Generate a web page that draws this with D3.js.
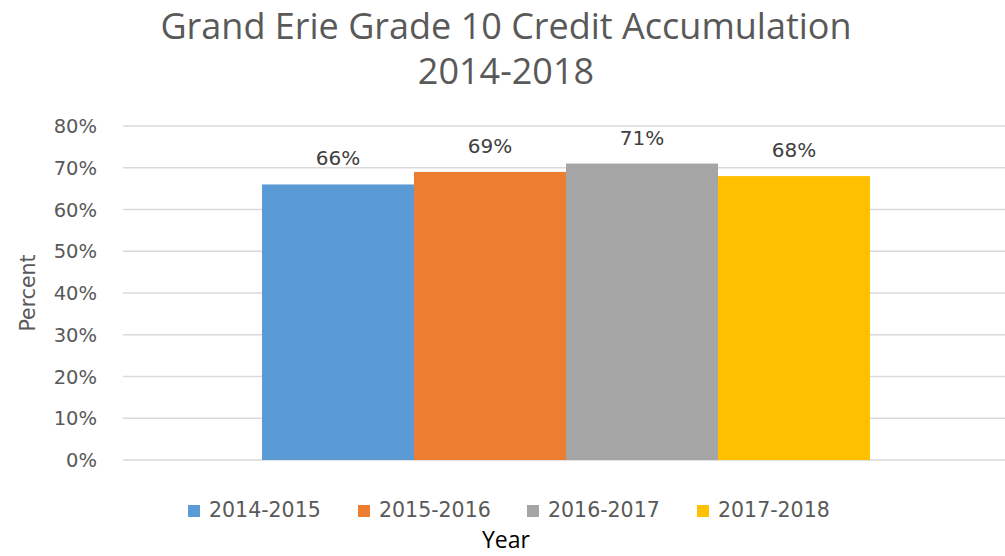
<!DOCTYPE html>
<html lang="en">
<head>
<meta charset="UTF-8">
<title>Grand Erie Grade 10 Credit Accumulation</title>
<script src="https://cdn.jsdelivr.net/npm/d3@7"></script>
<style>
    body { margin: 0; background: #fff; }
    text { font-family: "DejaVu Sans", sans-serif; }
    .title, .xtitle { font-family: "Open Sans", sans-serif; }
</style>
</head>
<body>
<script>
    var categories = ["Year"];
    var seriesNames = ["2014-2015", "2015-2016", "2016-2017", "2017-2018"];
    var seriesValues = [66, 69, 71, 68];
    var colors = ["#5B9BD5", "#ED7D31", "#A5A5A5", "#FFC000"];
    var yTicks = [0, 10, 20, 30, 40, 50, 60, 70, 80];

    var width = 1005, height = 556;
    var margin = {top: 126, right: 0, bottom: 96, left: 123};

    var svg = d3.select("body").append("svg")
        .attr("width", width)
        .attr("height", height);

    var x0 = d3.scaleBand()
        .domain(categories)
        .range([margin.left, 1009])
        .paddingInner(0)
        .paddingOuter(0.2286);

    var x1 = d3.scaleBand()
        .domain(seriesNames)
        .range([0, x0.bandwidth()]);

    var y = d3.scaleLinear()
        .domain([0, 80])
        .range([460, margin.top]);

    // gridlines
    svg.append("g")
        .selectAll("line")
        .data(yTicks)
        .enter()
        .append("line")
        .attr("x1", margin.left)
        .attr("x2", 1009)
        .attr("y1", function (d) { return y(d); })
        .attr("y2", function (d) { return y(d); })
        .attr("stroke", "#d9d9d9")
        .attr("stroke-width", 1.5);

    // y tick labels
    svg.append("g")
        .selectAll("text")
        .data(yTicks)
        .enter()
        .append("text")
        .attr("x", 97)
        .attr("y", function (d) { return y(d); })
        .attr("dy", "0.36em")
        .attr("text-anchor", "end")
        .attr("fill", "#595959")
        .style("font-size", "19.5px")
        .text(function (d) { return d + "%"; });

    // bars
    var group = svg.append("g")
        .attr("transform", "translate(" + x0(categories[0]) + ",0)");

    group.selectAll("rect")
        .data(seriesValues)
        .enter()
        .append("rect")
        .attr("x", function (d, i) { return x1(seriesNames[i]); })
        .attr("y", function (d) { return y(d); })
        .attr("width", x1.bandwidth())
        .attr("height", function (d) { return y(0) - y(d); })
        .attr("fill", function (d, i) { return colors[i]; });

    group.selectAll("text")
        .data(seriesValues)
        .enter()
        .append("text")
        .attr("x", function (d, i) { return x1(seriesNames[i]) + x1.bandwidth() / 2; })
        .attr("y", function (d) { return y(d) - 19; })
        .attr("text-anchor", "middle")
        .attr("fill", "#404040")
        .style("font-size", "20px")
        .text(function (d) { return d + "%"; });

    // title
    svg.append("text")
        .attr("class", "title")
        .attr("x", 506)
        .attr("y", 39)
        .attr("text-anchor", "middle")
        .attr("fill", "#595959")
        .style("font-size", "36px")
        .text("Grand Erie Grade 10 Credit Accumulation");
    svg.append("text")
        .attr("class", "title")
        .attr("x", 506)
        .attr("y", 84)
        .attr("text-anchor", "middle")
        .attr("fill", "#595959")
        .style("font-size", "36px")
        .text("2014-2018");

    // axis titles
    svg.append("text")
        .attr("transform", "translate(35,293) rotate(-90)")
        .attr("text-anchor", "middle")
        .attr("fill", "#595959")
        .style("font-size", "20.5px")
        .text("Percent");

    svg.append("text")
        .attr("class", "xtitle")
        .attr("x", 506)
        .attr("y", 548)
        .attr("text-anchor", "middle")
        .attr("fill", "#000")
        .style("font-size", "23px")
        .text("Year");

    // legend
    var legendX = [188, 358, 527, 697];
    var legend = svg.append("g")
        .selectAll("g")
        .data(seriesNames)
        .enter()
        .append("g")
        .attr("transform", function (d, i) { return "translate(" + legendX[i] + ",505)"; });

    legend.append("rect")
        .attr("width", 12)
        .attr("height", 12)
        .attr("fill", function (d, i) { return colors[i]; });

    legend.append("text")
        .attr("x", 21)
        .attr("y", 12)
        .attr("fill", "#595959")
        .style("font-size", "20.5px")
        .text(function (d) { return d; });
</script>
</body>
</html>
